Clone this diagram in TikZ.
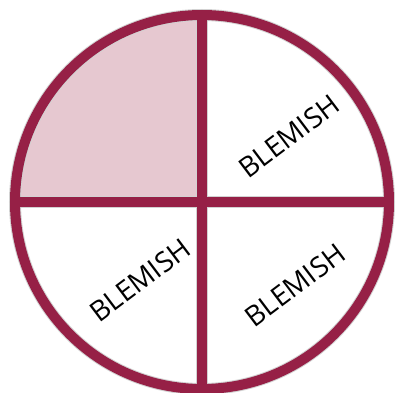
\documentclass[tikz,border=0pt]{standalone}
\usepackage{fontspec}
\setmainfont{Open Sans}
\definecolor{wine}{RGB}{150,32,70}
\definecolor{blush}{RGB}{230,200,208}

\begin{document}
\begin{tikzpicture}[
    x=1pt, y=1pt,
    rim/.style={line width=10pt, draw=wine},
    halo/.style={line width=12pt, draw=gray!35},
    blemish/.style={
        inner sep=0pt, rotate=37,
        font=\fontsize{28}{32}\selectfont
    },
]
\useasboundingbox (0,0) rectangle (397,392);

% r = 187
\coordinate (O) at (202,190);
\coordinate (N) at (202,377);
\coordinate (S) at (202,3);
\coordinate (W) at (15,190);
\coordinate (E) at (389,190);

\fill[blush] (O) -- (W) arc[start angle=180, end angle=90, radius=187] -- cycle;

\draw[halo] (O) circle[radius=187];
\draw[halo] (N) -- (S);
\draw[halo] (W) -- (E);
\draw[rim] (O) circle[radius=187];
\draw[rim] (N) -- (S);
\draw[rim] (W) -- (E);

\node [blemish] (TR) at (289,256) {BLEMISH};
\node [blemish] (BL) at (140,112) {BLEMISH};
\node [blemish] (BR) at (295,107) {BLEMISH};

\end{tikzpicture}
\end{document}
